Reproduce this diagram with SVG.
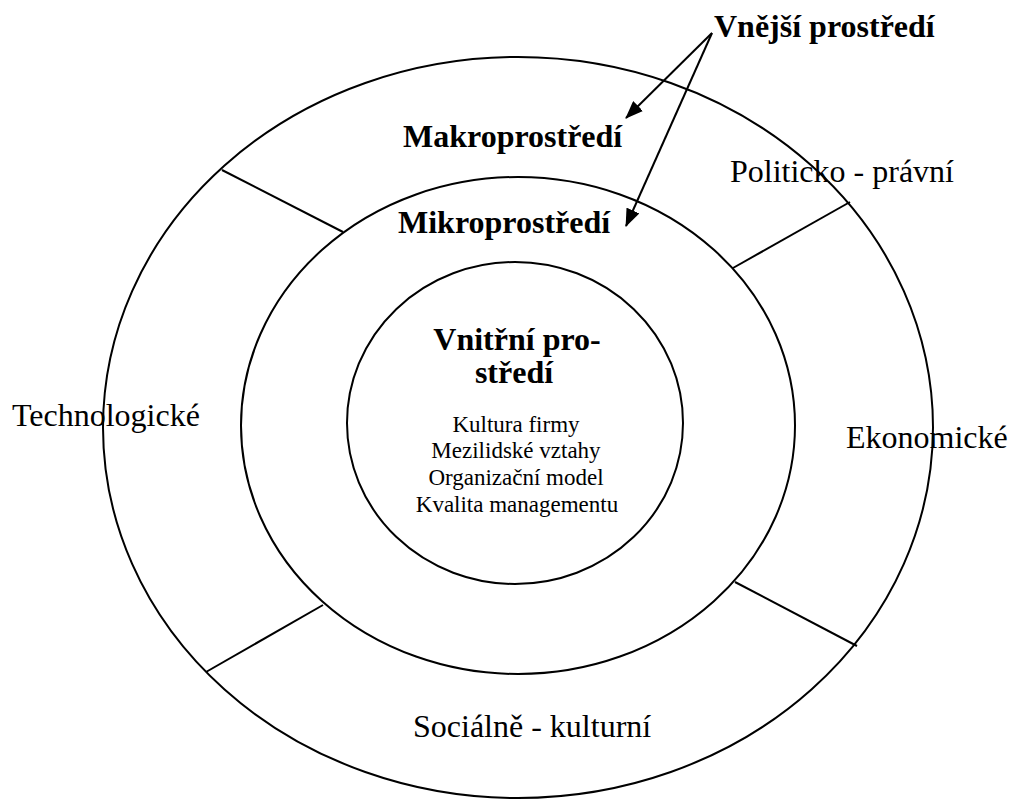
<svg xmlns="http://www.w3.org/2000/svg" width="1014" height="799" viewBox="0 0 1014 799">
<style>
.ring{fill:none;stroke:#000;stroke-width:2}
.div{stroke:#000;stroke-width:2}
.arr{stroke:#000;stroke-width:2;fill:none;marker-end:url(#ah)}
.b{font-family:"Liberation Serif","Times New Roman",serif;font-weight:bold;font-size:32px;fill:#000}
.r{font-family:"Liberation Serif","Times New Roman",serif;font-size:32px;fill:#000}
.s{font-family:"Liberation Serif","Times New Roman",serif;font-size:23px;fill:#000;text-anchor:middle}
</style>
<defs>
<marker id="ah" markerWidth="18" markerHeight="14" refX="17" refY="7" orient="auto" markerUnits="userSpaceOnUse">
<path d="M0,0 L18,7 L0,14 Z" fill="#000"/>
</marker>
</defs>
<rect width="1014" height="799" fill="#fff"/>
<g id="outer">
<ellipse class="ring" cx="518" cy="427.5" rx="415" ry="370.5"/>
</g>
<g id="middle">
<ellipse class="ring" cx="518" cy="425.5" rx="277" ry="248.5"/>
</g>
<g id="inner">
<ellipse class="ring" cx="515" cy="423" rx="168" ry="161"/>
<text class="b" x="517" y="350" text-anchor="middle">Vnitřní pro-</text>
<text class="b" x="514" y="383" text-anchor="middle">středí</text>
<text class="s" x="516" y="432">Kultura firmy</text>
<text class="s" x="516" y="458">Mezilidské vztahy</text>
<text class="s" x="516" y="485">Organizační model</text>
<text class="s" x="517" y="512">Kvalita managementu</text>
</g>
<g id="dividers">
<line class="div" x1="222" y1="170" x2="343" y2="232"/>
<line class="div" x1="850" y1="202" x2="733" y2="268"/>
<line class="div" x1="735" y1="582" x2="857" y2="646"/>
<line class="div" x1="323" y1="605" x2="206" y2="672"/>
</g>
<g id="labels">
<text class="b" x="403" y="147">Makroprostředí</text>
<text class="b" x="398" y="233">Mikroprostředí</text>
<text class="r" x="730" y="182">Politicko - právní</text>
<text class="r" x="12" y="426">Technologické</text>
<text class="r" x="846" y="448">Ekonomické</text>
<text class="r" x="413" y="737">Sociálně - kulturní</text>
</g>
<g id="vnejsi">
<text class="b" x="714" y="37">Vnější prostředí</text>
</g>
<g id="connectors">
<line class="arr" x1="712" y1="33" x2="626" y2="118"/>
<line class="arr" x1="712" y1="33" x2="626" y2="226"/>
</g>
</svg>
